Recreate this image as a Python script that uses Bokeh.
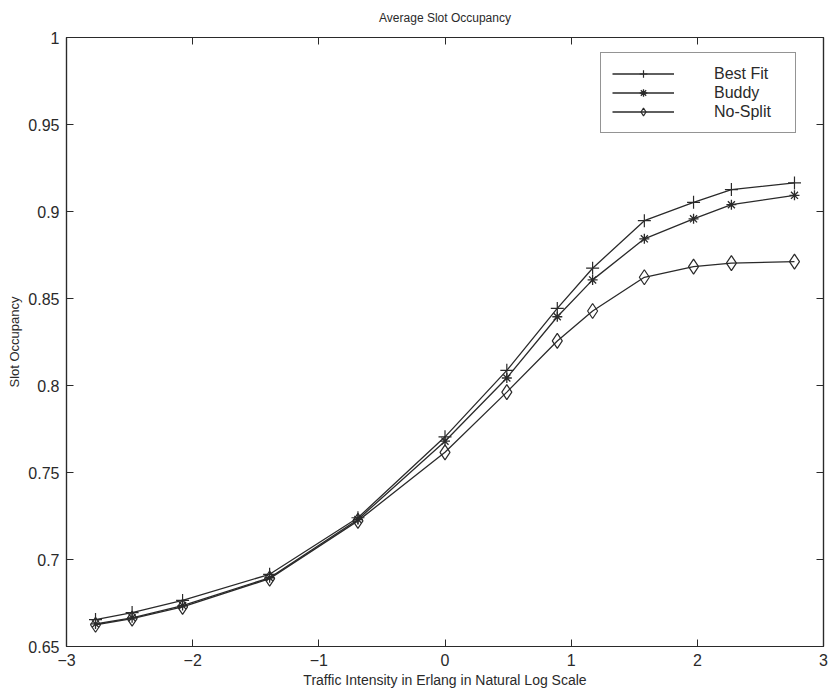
from bokeh.plotting import figure
from bokeh.models import (Range1d, FixedTicker, LinearAxis, Legend, LegendItem)
from bokeh.embed import file_html
from bokeh.resources import INLINE

# Data (x = ln of traffic intensity in Erlang)
x_vals = [-2.77, -2.48, -2.08, -1.39, -0.69, 0.0, 0.49, 0.89, 1.17, 1.58, 1.97, 2.27, 2.77]
best_fit = [0.6655, 0.6695, 0.6765, 0.6915, 0.7240, 0.7705, 0.8087, 0.8443, 0.8674, 0.8947, 0.9053, 0.9126, 0.9164]
buddy    = [0.6630, 0.6665, 0.6735, 0.6895, 0.7230, 0.7680, 0.8043, 0.8395, 0.8607, 0.8843, 0.8958, 0.9039, 0.9093]
no_split = [0.6625, 0.6660, 0.6728, 0.6890, 0.7222, 0.7616, 0.7962, 0.8256, 0.8428, 0.8622, 0.8683, 0.8703, 0.8712]

x_ticks = [-3, -2, -1, 0, 1, 2, 3]
y_ticks = [0.65, 0.7, 0.75, 0.8, 0.85, 0.9, 0.95, 1]
y_tick_labels = ["0.65", "0.7", "0.75", "0.8", "0.85", "0.9", "0.95", "1"]

FONT = "Liberation Sans"
INK = "#2a2a2a"

p = figure(width=829, height=699, output_backend="svg", toolbar_location=None,
           x_range=Range1d(-3, 3), y_range=Range1d(0.65, 1),
           min_border_left=66, min_border_right=6, min_border_top=0, min_border_bottom=53,
           background_fill_color="white", border_fill_color="white")

p.title.text = "Average Slot Occupancy"
p.title.align = "center"
p.title.vertical_align = "top"
p.title.text_font = FONT
p.title.text_font_size = "12px"
p.title.text_font_style = "normal"
p.title.text_color = INK
p.title.standoff = 21

p.xgrid.visible = False
p.ygrid.visible = False
p.outline_line_color = INK
p.outline_line_width = 1.2

def style_axis(ax, labels=True):
    ax.axis_line_color = INK
    ax.axis_line_width = 1.2
    ax.major_tick_line_color = INK
    ax.major_tick_in = 7
    ax.major_tick_out = 0
    ax.minor_tick_line_color = None
    ax.major_label_text_font = FONT
    ax.major_label_text_font_size = "16px"
    ax.major_label_text_color = INK
    ax.axis_label_text_font = FONT
    ax.axis_label_text_font_size = "14px"
    ax.axis_label_text_font_style = "normal"
    ax.axis_label_text_color = INK
    if not labels:
        ax.major_label_text_color = None
        ax.major_label_standoff = 0

xa = p.xaxis[0]
xa.ticker = FixedTicker(ticks=x_ticks)
xa.axis_label = "Traffic Intensity in Erlang in Natural Log Scale"
style_axis(xa)
xa.major_label_standoff = 7
xa.axis_label_standoff = 3

ya = p.yaxis[0]
ya.ticker = FixedTicker(ticks=y_ticks)
ya.major_label_overrides = {t: s for t, s in zip(y_ticks, y_tick_labels)}
ya.axis_label = "Slot Occupancy"
style_axis(ya)
ya.axis_label_text_font_size = "13px"
ya.major_label_standoff = 7
ya.axis_label_standoff = 3

top = LinearAxis(ticker=FixedTicker(ticks=x_ticks))
style_axis(top, labels=False)
p.add_layout(top, "above")
right = LinearAxis(ticker=FixedTicker(ticks=y_ticks))
style_axis(right, labels=False)
p.add_layout(right, "right")

LW = 1.3
r1 = p.line(x_vals, best_fit, line_color=INK, line_width=LW)
m1 = p.scatter(x_vals, best_fit, marker="cross", size=13, line_color=INK, line_width=1.2)
r2 = p.line(x_vals, buddy, line_color=INK, line_width=LW)
m2 = p.scatter(x_vals, buddy, marker="asterisk", size=10, line_color=INK, line_width=1.3)
r3 = p.line(x_vals, no_split, line_color=INK, line_width=LW)
m3 = p.scatter(x_vals, no_split, marker="diamond", size=15, line_color=INK, fill_color=None, line_width=1.2)

legend = Legend(items=[LegendItem(label="Best Fit", renderers=[r1, m1]),
                       LegendItem(label="Buddy", renderers=[r2, m2]),
                       LegendItem(label="No-Split", renderers=[r3, m3])],
                location=(534, 513))
legend.label_text_font = FONT
legend.label_text_font_size = "16px"
legend.label_text_color = INK
legend.label_standoff = 40
legend.label_width = 70
legend.label_height = 19
legend.glyph_width = 62
legend.glyph_height = 19
legend.spacing = 0
legend.padding = 11
legend.margin = 0
legend.border_line_color = INK
legend.border_line_width = 1.2
legend.background_fill_color = "white"
legend.background_fill_alpha = 1
p.add_layout(legend, "center")

open("out.html", "w").write(file_html(p, INLINE))
